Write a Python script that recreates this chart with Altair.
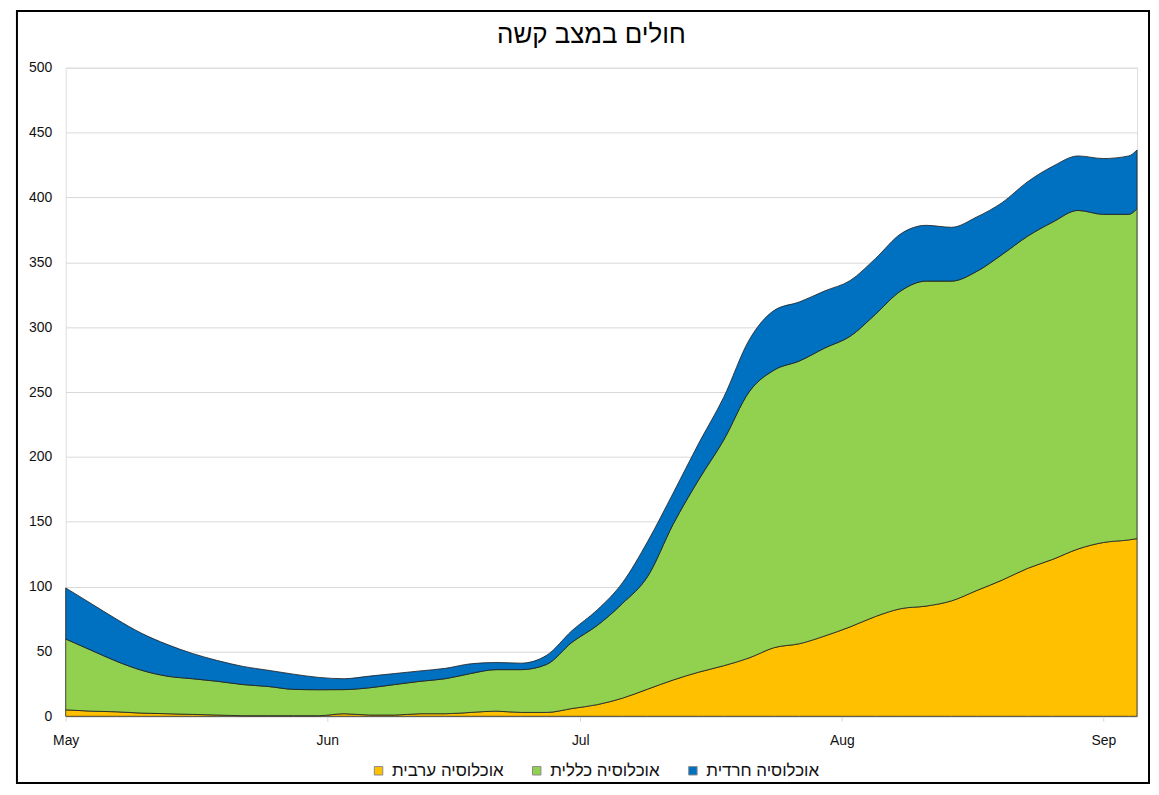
import altair as alt
import pandas as pd

# ---- data ----
dates = [
    "2021-05-01", "2021-05-04", "2021-05-07", "2021-05-10", "2021-05-13", "2021-05-16",
    "2021-05-19", "2021-05-22", "2021-05-25", "2021-05-28", "2021-05-31",
    "2021-06-03", "2021-06-06", "2021-06-09", "2021-06-12", "2021-06-15",
    "2021-06-18", "2021-06-21", "2021-06-24", "2021-06-27", "2021-06-30",
    "2021-07-03", "2021-07-06", "2021-07-09", "2021-07-12", "2021-07-15",
    "2021-07-18", "2021-07-21", "2021-07-24", "2021-07-27", "2021-07-30",
    "2021-08-02", "2021-08-05", "2021-08-08", "2021-08-11", "2021-08-14",
    "2021-08-17", "2021-08-20", "2021-08-23", "2021-08-26", "2021-08-29",
    "2021-09-01", "2021-09-04", "2021-09-05",
]
arab = [5, 4, 3.5, 2.5, 2, 1.5, 1, 0.5, 0.5, 0.5, 0.5,
        2, 1, 1, 2, 2, 3, 4, 3, 3, 6,
        9, 14, 21, 28, 34, 39, 45, 53, 56, 62,
        69, 77, 83, 85, 89, 97, 105, 114, 121, 129,
        134, 136, 137]
general = [54.6, 47, 39, 33, 29, 27.5, 26, 24, 22.5, 20.3, 20,
           18.6, 21, 23.5, 25, 27, 30, 32, 33, 37, 51,
           61, 73, 87, 120, 148, 174, 205, 214, 218, 222,
           224, 233, 245, 250.5, 246.5, 246, 251, 256, 260, 261,
           253, 251, 254.4]
haredi = [39.4, 36, 32.5, 28.5, 24.5, 19.5, 16, 14, 12.5, 11.7, 9.5,
          8.4, 9, 8.5, 8, 8, 7.5, 5.5, 5, 7, 9,
          12, 16, 27, 24, 28, 33, 40, 46, 45.5, 44,
          43, 43, 44, 43, 41.5, 42, 40, 42, 43, 42,
          43, 45, 45.2]

series_names = ["אוכלוסיה ערבית", "אוכלוסיה כללית", "אוכלוסיה חרדית"]
series_colors = ["#FFC000", "#92D050", "#0070C0"]
y_ticks = [0, 50, 100, 150, 200, 250, 300, 350, 400, 450, 500]
title_text = "חולים במצב קשה"

rows = []
for i, d in enumerate(dates):
    for k, vals in enumerate([arab, general, haredi]):
        rows.append({"date": d + "T00:00:00", "series": series_names[k],
                     "order": k, "value": vals[i]})
df = pd.DataFrame(rows)

FONT = "Liberation Sans"
W, H = 1077, 652

month_ticks = [alt.DateTime(year=2021, month=m, date=1) for m in [5, 6, 7, 8, 9]]

area = alt.Chart(df).mark_area(
    stroke="#1e1e1e", strokeWidth=0.8, interpolate="monotone", opacity=1
).encode(
    x=alt.X("date:T",
            scale=alt.Scale(domain=[alt.DateTime(year=2021, month=5, date=1),
                                    alt.DateTime(year=2021, month=9, date=5)], nice=False),
            axis=alt.Axis(values=month_ticks, format="%b", title=None, grid=False,
                          domainColor="#d9d9d9", tickColor="#d9d9d9", tickSize=5,
                          labelFont=FONT, labelFontSize=14, labelColor="#111",
                          labelPadding=12, labelFlush=False)),
    y=alt.Y("value:Q", stack="zero",
            scale=alt.Scale(domain=[0, 500], nice=False),
            axis=alt.Axis(values=y_ticks, title=None, domain=False, ticks=False,
                          gridColor="#d9d9d9", gridWidth=1,
                          labelFont=FONT, labelFontSize=14, labelColor="#111",
                          labelPadding=14)),
    color=alt.Color("series:N",
                    scale=alt.Scale(domain=series_names, range=series_colors),
                    legend=alt.Legend(title=None, orient="none", direction="horizontal",
                                      legendX=306, legendY=698,
                                      symbolType="square", symbolSize=72,
                                      symbolStrokeColor="#8a8a8a", symbolStrokeWidth=1,
                                      symbolOpacity=1,
                                      labelFont=FONT, labelFontSize=17, labelColor="#111",
                                      labelOffset=5, columnPadding=24)),
    order=alt.Order("order:Q", sort="ascending"),
)

title = alt.Chart(pd.DataFrame({"t": [title_text]})).mark_text(
    font=FONT, fontSize=26, color="black", align="center", baseline="alphabetic"
).encode(text="t:N", x=alt.value(W / 2 - 10), y=alt.value(-25))

frame = alt.Chart(pd.DataFrame({"f": [0]})).mark_rect(
    fillOpacity=0, stroke="black", strokeWidth=2
).encode(
    x=alt.value(-49), x2=alt.value(1089), y=alt.value(-57), y2=alt.value(719)
)

chart = alt.layer(area, title, frame).properties(
    width=W, height=H,
    autosize=alt.AutoSizeParams(type="none"),
    padding={"left": 58, "top": 58, "right": 14, "bottom": 69},
).configure_view(stroke=None).configure(background="white")

chart.save("out.html", embed_options={"renderer": "svg", "actions": False})
